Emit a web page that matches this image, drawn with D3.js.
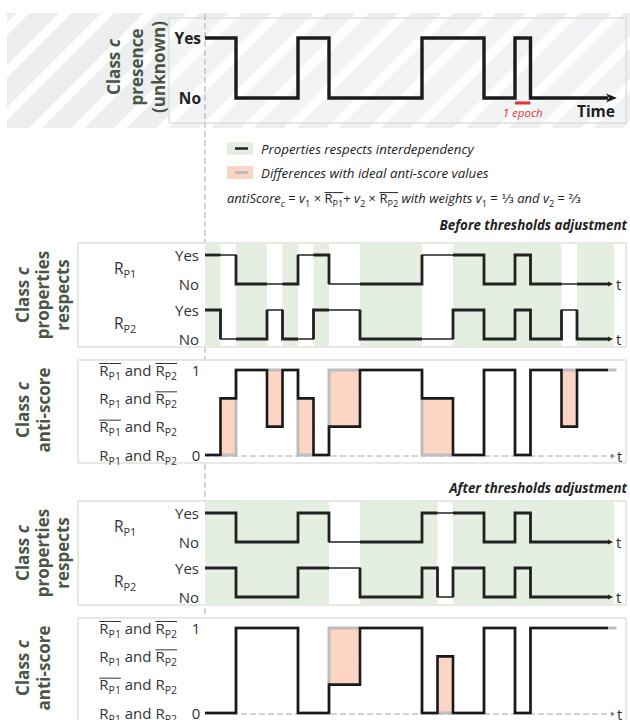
<!DOCTYPE html>
<html>
<head>
<meta charset="utf-8">
<script src="https://cdn.jsdelivr.net/npm/d3@7"></script>
<style>
  body { margin: 0; background: #fff; }
  svg text { font-family: "Open Sans", "DejaVu Sans", sans-serif; white-space: pre; }
</style>
</head>
<body>
<svg id="chart" width="630" height="720"></svg>
<script>
// epochs shown on the time axis
const nEpochs = 26;

// class presence (1 = Yes, 0 = No), one value per epoch
const presence  = [1,1,0,0,0,0,1,1,0,0,0,0,0,0,1,1,1,1,0,0,1,0,0,0,0,0];

// property respects before / after thresholds adjustment
const beforeP1 = [1,1,0,0,0,0,1,1,0,0,0,0,0,0,1,1,1,1,0,0,1,0,0,0,0,0];
const beforeP2 = [1,0,0,0,1,0,0,1,1,1,0,0,0,0,0,0,1,1,0,0,1,0,0,1,0,0];
const afterP1  = [1,1,0,0,0,0,1,1,0,0,0,0,0,0,1,1,1,1,0,0,1,0,0,0,0,0];
const afterP2  = [1,1,0,0,0,0,1,1,1,1,0,0,0,0,1,0,1,1,0,0,1,0,0,0,0,0];

// anti-score values read off the picture, and the ideal one (no presence)
const beforeAnti = [0,2/3,1,1,1/3,1,2/3,0,1/3,1/3,1,1,1,1,2/3,2/3,0,0,1,1,0,1,1,1/3,1,1];
const afterAnti  = [0,0,1,1,1,1,0,0,1/3,1/3,1,1,1,1,0,2/3,0,0,1,1,0,1,1,1,1,1];
const idealAnti  = [0,0,1,1,1,1,0,0,1,1,1,1,1,1,0,0,0,0,1,1,0,1,1,1,1,1];

const yesNo = ["Yes", "No"];
const scoreTicks = ["1", "0"];
const scoreLevels = [1, 2/3, 1/3, 0];
// [overline P1?, overline P2?] per anti-score level label
const levelBars = [[true, true], [false, true], [true, false], [false, false]];

const svg = d3.select("#chart");
const x = d3.scaleLinear().domain([0, nEpochs]).range([205, 608]);

const ink = "#222";
const labelCol = "#4a5547";
const green = "#e5efe1";
const pink = "#fbd4c3";
const grayLine = "#bdbdbd";

// text made of pieces: subscripts, italics, overlines
function rich(parent, px, py, parts, opt) {
  const size = opt.size || 14;
  const g = parent.append("g");
  let cx = 0;
  const placed = [];
  parts.forEach((p) => {
    const fs = p.sub ? size * 0.7 : size;
    const t = g.append("text")
      .attr("x", cx)
      .attr("y", p.sub ? size * 0.28 : 0)
      .attr("font-size", fs)
      .attr("font-style", p.it ? "italic" : "normal")
      .attr("font-weight", opt.weight || "normal")
      .attr("fill", opt.fill || "#333")
      .text(p.t);
    const w = t.node().getComputedTextLength();
    placed.push({ x0: cx, w, over: p.over });
    cx += w;
  });
  placed.filter((p) => p.over).forEach((p) => {
    g.append("line")
      .attr("x1", p.x0).attr("x2", p.x0 + p.w)
      .attr("y1", -size * 0.8).attr("y2", -size * 0.8)
      .attr("stroke", opt.fill || "#333").attr("stroke-width", 1);
  });
  const shift = opt.anchor === "end" ? cx : opt.anchor === "middle" ? cx / 2 : 0;
  g.attr("transform", `translate(${px - shift},${py})`);
  return g;
}

function sideLabel(lines, cxs, cy, size) {
  lines.forEach((ln, i) => {
    const t = svg.append("text")
      .attr("transform", `translate(${cxs[i]},${cy}) rotate(-90)`)
      .attr("text-anchor", "middle")
      .attr("dominant-baseline", "central")
      .attr("font-size", size)
      .attr("font-weight", "bold")
      .attr("fill", labelCol);
    if (ln === "Class c") {
      t.append("tspan").text("Class ");
      t.append("tspan").attr("font-style", "italic").text("c");
    } else t.text(ln);
  });
}

function stepPath(vals, y, endT) {
  let d = `M${x(0)},${y(vals[0])}`;
  for (let i = 1; i < vals.length; i++) d += `H${x(i)}V${y(vals[i])}`;
  return d + `H${x(endT)}`;
}

function runs(flags) {
  const out = [];
  let s = null;
  flags.forEach((f, i) => {
    if (f && s === null) s = i;
    if (!f && s !== null) { out.push([s, i - 1]); s = null; }
  });
  if (s !== null) out.push([s, flags.length - 1]);
  return out;
}

// ---------- hatched top panel ----------
const defs = svg.append("defs");
const pat = defs.append("pattern").attr("id", "hatch")
  .attr("patternUnits", "userSpaceOnUse")
  .attr("width", 30).attr("height", 30)
  .attr("patternTransform", "rotate(45)");
pat.append("rect").attr("width", 30).attr("height", 30).attr("fill", "#fff");
pat.append("rect").attr("width", 21).attr("height", 30).attr("fill", "#eceef0");

svg.append("rect").attr("x", 7).attr("y", 13).attr("width", 623).attr("height", 115).attr("fill", "url(#hatch)");
svg.append("rect").attr("x", 169).attr("y", 18).attr("width", 457).attr("height", 105)
  .attr("fill", "#fff").attr("fill-opacity", 0.3).attr("stroke", "#dde2d8").attr("stroke-width", 1.5);

// dashed time origin
svg.append("line").attr("x1", x(0)).attr("x2", x(0)).attr("y1", 14).attr("y2", 720)
  .attr("stroke", "#a8a8a8").attr("stroke-dasharray", "6,3");

const yTop = d3.scaleLinear().domain([0, 1]).range([98, 38]);
sideLabel(["Class c", "presence", "(unknown)"], [113, 136, 158], 67, 17);
yesNo.forEach((lab, i) => {
  svg.append("text").attr("x", 201).attr("y", yTop(1 - i)).attr("dominant-baseline", "central")
    .attr("text-anchor", "end").attr("font-size", 15.5).attr("font-weight", "bold").attr("fill", ink).text(lab);
});
svg.append("path").attr("d", stepPath(presence, yTop, nEpochs))
  .attr("fill", "none").attr("stroke", "#1a1a1a").attr("stroke-width", 3.4);
svg.append("path")
  .attr("d", `M${x(nEpochs) - 2},${yTop(0) - 4.5}L${x(nEpochs) + 9},${yTop(0)}L${x(nEpochs) - 2},${yTop(0) + 4.5}L${x(nEpochs) + 1},${yTop(0)}Z`)
  .attr("fill", "#1a1a1a");
svg.append("line").attr("x1", x(20)).attr("x2", x(21)).attr("y1", 103).attr("y2", 103)
  .attr("stroke", "#e8302f").attr("stroke-width", 3);
svg.append("text").attr("x", x(20.5)).attr("y", 116.5).attr("text-anchor", "middle")
  .attr("font-size", 11.5).attr("font-style", "italic").attr("fill", "#e8302f").text("1 epoch");
svg.append("text").attr("x", 615).attr("y", 116.5).attr("text-anchor", "end")
  .attr("font-size", 15.5).attr("font-weight", "bold").attr("fill", ink).text("Time");

// ---------- legend ----------
svg.append("rect").attr("x", 227).attr("y", 142).attr("width", 26).attr("height", 13).attr("fill", green);
svg.append("line").attr("x1", 235).attr("x2", 248).attr("y1", 148.5).attr("y2", 148.5).attr("stroke", ink).attr("stroke-width", 2.5);
svg.append("rect").attr("x", 227).attr("y", 166).attr("width", 26).attr("height", 13).attr("fill", pink);
svg.append("line").attr("x1", 235).attr("x2", 248).attr("y1", 172.5).attr("y2", 172.5).attr("stroke", grayLine).attr("stroke-width", 3);
svg.append("text").attr("x", 261).attr("y", 153.5).attr("font-size", 13.3).attr("font-style", "italic").attr("fill", ink)
  .text("Properties respects interdependency");
svg.append("text").attr("x", 261).attr("y", 177.5).attr("font-size", 13.3).attr("font-style", "italic").attr("fill", ink)
  .text("Differences with ideal anti-score values");

rich(svg, 227, 203, [
  { t: "antiScore", it: true }, { t: "c", it: true, sub: true }, { t: " = " },
  { t: "v", it: true }, { t: "1", sub: true }, { t: " × " },
  { t: "R", over: true }, { t: "P1", sub: true, over: true }, { t: "+ " },
  { t: "v", it: true }, { t: "2", sub: true }, { t: " × " },
  { t: "R", over: true }, { t: "P2", sub: true, over: true },
  { t: " with weights ", it: true }, { t: "v", it: true }, { t: "1", sub: true },
  { t: " = ⅓ " }, { t: "and ", it: true }, { t: "v", it: true }, { t: "2", sub: true }, { t: " = ⅔" }
], { size: 13, fill: ink });

function header(txt, y) {
  svg.append("text").attr("x", 627).attr("y", y).attr("text-anchor", "end")
    .attr("font-size", 13.3).attr("font-weight", "bold").attr("font-style", "italic").attr("fill", ink).text(txt);
}
header("Before thresholds adjustment", 230);
header("After thresholds adjustment", 493);

// ---------- properties panel ----------
function propsPanel(top, p1, p2) {
  svg.append("rect").attr("x", 78).attr("y", top).attr("width", 548).attr("height", 104)
    .attr("fill", "#fff").attr("stroke", "#dfe3da").attr("stroke-width", 1.5);
  const eq = p1.map((v, i) => v === p2[i]);
  svg.append("g").selectAll("rect").data(runs(eq)).join("rect")
    .attr("x", (r) => x(r[0]))
    .attr("width", (r) => x(r[1] === nEpochs - 1 ? nEpochs + 0.4 : r[1] + 1) - x(r[0]))
    .attr("y", top + 1).attr("height", 102).attr("fill", green);
  sideLabel(["Class c", "properties", "respects"], [22, 42, 62], top + 52, 17);

  [[p1, "P1", top + 12], [p2, "P2", top + 67]].forEach(([vals, sub, yy]) => {
    const y = d3.scaleLinear().domain([0, 1]).range([yy + 29, yy]);
    yesNo.forEach((lab, i) => {
      svg.append("text").attr("x", 199).attr("y", y(1 - i)).attr("dominant-baseline", "central")
        .attr("text-anchor", "end").attr("font-size", 15).attr("fill", "#333").text(lab);
    });
    rich(svg, 114, yy + 19, [{ t: "R" }, { t: sub, sub: true }], { size: 15.5 });
    // thin everywhere, thick where the two properties agree
    svg.append("path").attr("d", stepPath(vals, y, nEpochs))
      .attr("fill", "none").attr("stroke", ink).attr("stroke-width", 1.3);
    runs(eq).forEach(([a, b]) => {
      let d = a > 0 ? `M${x(a)},${y(vals[a - 1])}V${y(vals[a])}` : `M${x(a)},${y(vals[a])}`;
      for (let i = a + 1; i <= b; i++) d += `H${x(i)}V${y(vals[i])}`;
      d += `H${x(b + 1)}`;
      if (b + 1 < nEpochs) d += `V${y(vals[b + 1])}`;
      svg.append("path").attr("d", d).attr("fill", "none").attr("stroke", ink).attr("stroke-width", 2.8);
    });
    svg.append("path")
      .attr("d", `M${x(nEpochs)},${y(0) - 2.5}L${x(nEpochs) + 5},${y(0)}L${x(nEpochs)},${y(0) + 2.5}Z`)
      .attr("fill", ink);
    svg.append("text").attr("x", 616).attr("y", y(0)).attr("dominant-baseline", "central")
      .attr("font-size", 15).attr("fill", "#333").text("t");
  });
}

// ---------- anti-score panel ----------
function antiPanel(top, vals, height) {
  svg.append("rect").attr("x", 78).attr("y", top).attr("width", 548).attr("height", height)
    .attr("fill", "#fff").attr("stroke", "#dfe3da").attr("stroke-width", 1.5);
  sideLabel(["Class c", "anti-score"], [22, 43], top + 50, 17);
  const y = d3.scaleLinear().domain([0, 1]).range([top + 95, top + 10]);

  scoreLevels.forEach((lv, i) => {
    const [b1, b2] = levelBars[i];
    rich(svg, 177, y(lv) + 5.5, [
      { t: "R", over: b1 }, { t: "P1", sub: true, over: b1 }, { t: " and " },
      { t: "R", over: b2 }, { t: "P2", sub: true, over: b2 }
    ], { size: 15, anchor: "end" });
  });
  scoreTicks.forEach((lab, i) => {
    svg.append("text").attr("x", 196).attr("y", y(1 - i)).attr("dominant-baseline", "central")
      .attr("text-anchor", "middle").attr("font-size", 15).attr("fill", "#333").text(lab);
  });

  // difference areas between actual and ideal
  const diff = vals.map((v, i) => ({ i, v, id: idealAnti[i] })).filter((d) => d.v !== d.id);
  svg.append("g").selectAll("rect").data(diff).join("rect")
    .attr("x", (d) => x(d.i)).attr("width", x(1) - x(0) + 0.3)
    .attr("y", (d) => y(Math.max(d.v, d.id)))
    .attr("height", (d) => Math.abs(y(d.v) - y(d.id)))
    .attr("fill", pink);

  svg.append("line").attr("x1", x(0)).attr("x2", x(nEpochs) + 4).attr("y1", y(0) + 1).attr("y2", y(0) + 1)
    .attr("stroke", "#a8a8a8").attr("stroke-dasharray", "6,3");
  svg.append("path")
    .attr("d", `M${x(nEpochs) + 3},${y(0) - 1.5}L${x(nEpochs) + 7},${y(0) + 1}L${x(nEpochs) + 3},${y(0) + 3.5}Z`)
    .attr("fill", "#888");
  svg.append("text").attr("x", 617).attr("y", y(0) + 1).attr("dominant-baseline", "central")
    .attr("font-size", 15).attr("fill", "#333").text("t");

  svg.append("path").attr("d", stepPath(idealAnti, y, nEpochs + 0.55))
    .attr("fill", "none").attr("stroke", grayLine).attr("stroke-width", 3);
  svg.append("path").attr("d", stepPath(vals, y, nEpochs))
    .attr("fill", "none").attr("stroke", "#1a1a1a").attr("stroke-width", 2.6);
}

propsPanel(243, beforeP1, beforeP2);
antiPanel(360, beforeAnti, 103);
propsPanel(501, afterP1, afterP2);
antiPanel(618, afterAnti, 110);
</script>
</body>
</html>
